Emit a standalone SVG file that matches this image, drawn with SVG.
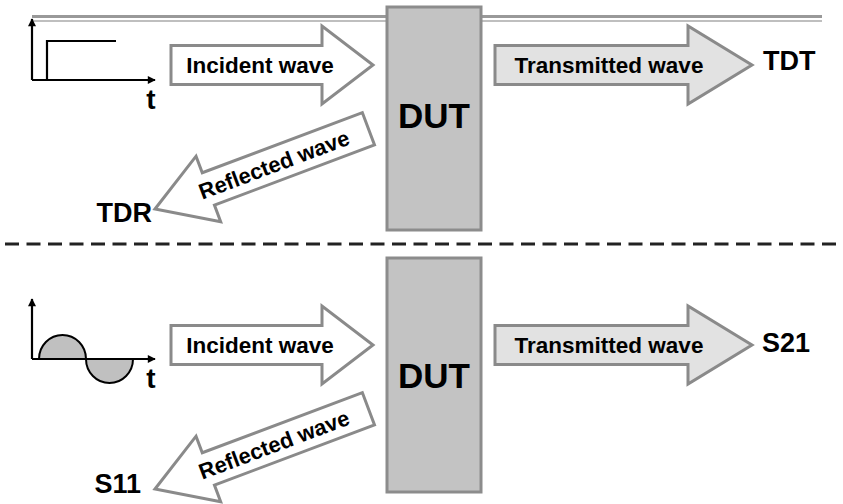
<svg xmlns="http://www.w3.org/2000/svg" width="843" height="504" viewBox="0 0 843 504">
<style>
.lbl{font-family:"Liberation Sans",Arial,sans-serif;font-weight:bold;fill:#000}
.arr{stroke:#8a8a8a;stroke-width:3;stroke-linejoin:miter}
.inc{fill:#fff}
.trn{fill:#e2e2e2}
.dut{fill:#c3c3c3;stroke:#8c8c8c;stroke-width:3}
.ax{stroke:#000;stroke-width:2.2;fill:none}
</style>
<defs>
<marker id="ah" viewBox="0 0 10 10" refX="9" refY="5" markerWidth="9" markerHeight="8" markerUnits="userSpaceOnUse" orient="auto">
<path d="M0,0 L10,5 L0,10 Z" fill="#000"/>
</marker>
</defs>
<rect width="843" height="504" fill="#fff"/>

<g id="lines">
<path d="M32,16.5 H387 M481,16.5 H822" stroke="#999" stroke-width="3"/>
<path d="M32,21 H387 M481,21 H822" stroke="#aaa" stroke-width="1.6"/>
<path d="M5,244 H843" stroke="#222" stroke-width="3" stroke-dasharray="14,7.5"/>
</g>

<g id="step-graph">
<path class="ax" d="M32,80 V19" marker-end="url(#ah)"/>
<path class="ax" d="M32,80 H155" marker-end="url(#ah)"/>
<path class="ax" d="M47,80 V41 H116"/>
<text class="lbl" x="151" y="109" font-size="28" text-anchor="middle">t</text>
</g>

<g id="sine-graph">
<path d="M39,359 A23.5,24 0 0 1 86,359 Z" fill="#c0c0c0" stroke="#000" stroke-width="2"/>
<path d="M86,359 A23.5,24 0 0 0 133,359 Z" fill="#c0c0c0" stroke="#000" stroke-width="2"/>
<path class="ax" d="M32,359 V299" marker-end="url(#ah)"/>
<path class="ax" d="M32,359 H155" marker-end="url(#ah)"/>
<text class="lbl" x="151" y="388" font-size="28" text-anchor="middle">t</text>
</g>

<g id="dut-top">
<rect class="dut" x="387" y="7" width="94" height="223"/>
<text class="lbl" x="434" y="128" font-size="35" text-anchor="middle">DUT</text>
</g>
<g id="dut-bottom">
<rect class="dut" x="387" y="258" width="94" height="234"/>
<text class="lbl" x="434" y="388" font-size="35" text-anchor="middle">DUT</text>
</g>

<g id="connectors">
<g id="incident-top">
<path class="arr inc" d="M171,45.5 H322 V26 L373,65 L322,104 V84.5 H171 Z"/>
<text class="lbl" x="260" y="73" font-size="22.5" text-anchor="middle">Incident wave</text>
</g>
<g id="transmitted-top">
<path class="arr trn" d="M495,45.5 H688 V26 L752,65 L688,104 V84.5 H495 Z"/>
<text class="lbl" x="609" y="73" font-size="22.5" text-anchor="middle">Transmitted wave</text>
</g>
<g id="reflected-top" transform="translate(155,209) rotate(-20.6)">
<path class="arr inc" d="M0,0 L57,-35 V-17.3 H228 V17.3 H57 V35 Z"/>
<text class="lbl" x="127" y="8" font-size="22" text-anchor="middle">Reflected wave</text>
</g>
<g id="incident-bottom">
<path class="arr inc" d="M171,325.5 H322 V306 L373,345 L322,384 V364.5 H171 Z"/>
<text class="lbl" x="260" y="353" font-size="22.5" text-anchor="middle">Incident wave</text>
</g>
<g id="transmitted-bottom">
<path class="arr trn" d="M495,325.5 H688 V306 L752,345 L688,384 V364.5 H495 Z"/>
<text class="lbl" x="609" y="353" font-size="22.5" text-anchor="middle">Transmitted wave</text>
</g>
<g id="reflected-bottom" transform="translate(155,489) rotate(-20.6)">
<path class="arr inc" d="M0,0 L57,-35 V-17.3 H228 V17.3 H57 V35 Z"/>
<text class="lbl" x="127" y="8" font-size="22" text-anchor="middle">Reflected wave</text>
</g>
</g>

<g id="labels">
<text class="lbl" x="763" y="70" font-size="27">TDT</text>
<text class="lbl" x="762" y="352" font-size="27">S21</text>
<text class="lbl" x="152" y="222" font-size="27" text-anchor="end">TDR</text>
<text class="lbl" x="141" y="493" font-size="27" text-anchor="end">S11</text>
</g>
</svg>
